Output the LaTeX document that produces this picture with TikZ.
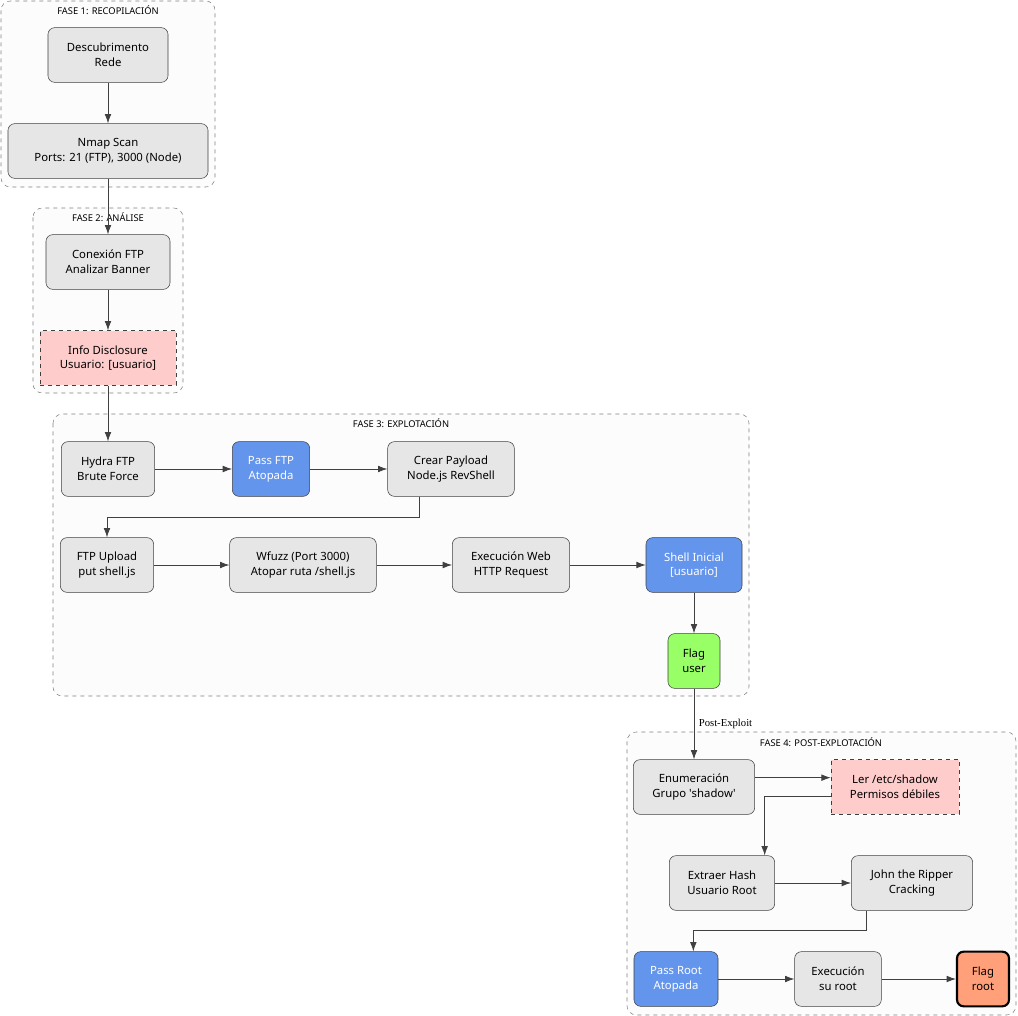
\documentclass[tikz,border=0pt]{standalone}
\usepackage{fontspec}
\setmainfont{Noto Sans}
\newfontfamily\labelfont{Liberation Serif}
\usetikzlibrary{arrows.meta,positioning}
\definecolor{boxgray}{HTML}{E6E6E6}
\definecolor{linegray}{HTML}{404040}
\definecolor{infopink}{HTML}{FFCCCC}
\definecolor{passblue}{HTML}{6495ED}
\definecolor{flaggreen}{HTML}{99FF66}
\definecolor{flagorange}{HTML}{FFA07A}
\begin{document}
\begin{tikzpicture}[x=0.75pt,y=-0.75pt,font=\fontsize{8.5}{11}\selectfont]
    \tikzset{
      stepnode/.style={rectangle,rounded corners=5pt,draw=linegray,fill=boxgray,inner sep=0pt,minimum height=41pt,align=center},
      infonode/.style={stepnode,rounded corners=0pt,dashed,fill=infopink},
      passnode/.style={stepnode,fill=passblue,text=white},
      phasebox/.style={draw=gray,dashed,rounded corners=7pt,fill=black!1},
      phaselabel/.style={font=\fontsize{7}{8}\selectfont},
      arrow/.style={-{Latex[length=7pt,width=5pt]},draw=linegray,line width=0.6pt}
    }
    \useasboundingbox (0,0) rectangle (1018,1016);
    % phases
    \draw[phasebox] (1,1) rectangle (215,187);
    \node[phaselabel] (f1) at (108,10) {FASE 1: RECOPILACIÓN};
    \draw[phasebox] (33,208) rectangle (183,393);
    \node[phaselabel] (f2) at (108,217) {FASE 2: ANÁLISE};
    \draw[phasebox] (53,414) rectangle (749,696);
    \node[phaselabel] (f3) at (401,423) {FASE 3: EXPLOTACIÓN};
    \draw[phasebox] (627,732) rectangle (1016,1015);
    \node[phaselabel] (f4) at (821,742) {FASE 4: POST-EXPLOTACIÓN};

    % steps
    \node[stepnode,minimum width=90pt] (discovery) at (108,55) {Descubrimento\\Rede};
    \node[stepnode,minimum width=150pt] (nmap) at (108,151) {Nmap Scan\\Ports: 21 (FTP), 3000 (Node)};
    \node[stepnode,minimum width=93pt] (ftpconn) at (108,262) {Conexión FTP\\Analizar Banner};
    \node[infonode,minimum width=102pt] (disclosure) at (108,358) {Info Disclosure\\Usuario: [usuario]};
    \node[stepnode,minimum width=70pt] (hydra) at (108,469) {Hydra FTP\\Brute Force};
    \node[passnode,minimum width=58pt] (passftp) at (271,469) {Pass FTP\\Atopada};
    \node[stepnode,minimum width=95pt] (payload) at (451,469) {Crear Payload\\Node.js RevShell};
    \node[stepnode,minimum width=70pt] (upload) at (107,565) {FTP Upload\\put shell.js};
    \node[stepnode,minimum width=110pt] (wfuzz) at (303,565) {Wfuzz (Port 3000)\\Atopar ruta /shell.js};
    \node[stepnode,minimum width=88pt] (webexec) at (511,565) {Execución Web\\HTTP Request};
    \node[passnode,minimum width=72pt] (shell) at (694,565) {Shell Inicial\\{[usuario]}};
    \node[stepnode,fill=flaggreen,minimum width=39pt] (flaguser) at (694,661) {Flag\\user};
    \node[stepnode,minimum width=91pt] (enum) at (694,787) {Enumeración\\Grupo \textquotesingle shadow\textquotesingle};
    \node[infonode,minimum width=96pt] (shadow) at (895,787) {Ler /etc/shadow\\Permisos débiles};
    \node[stepnode,minimum width=79pt] (hash) at (722,883) {Extraer Hash\\Usuario Root};
    \node[stepnode,minimum width=91pt] (john) at (912,883) {John the Ripper\\Cracking};
    \node[passnode,minimum width=63pt] (passroot) at (676,979) {Pass Root\\Atopada};
    \node[stepnode,minimum width=65pt] (suroot) at (838,979) {Execución\\su root};
    \node[stepnode,fill=flagorange,line width=1.6pt,draw=black,minimum width=39pt] (flagroot) at (983,979) {Flag\\root};

    % connectors
    \draw[arrow] (discovery) -- (nmap);
    \draw[arrow] (nmap) -- (ftpconn);
    \draw[arrow] (ftpconn) -- (disclosure);
    \draw[arrow] (disclosure) -- (hydra);
    \draw[arrow] (hydra) -- (passftp);
    \draw[arrow] (passftp) -- (payload);
    \draw[arrow] ([xshift=-24pt]payload.south) -- ++(0,21) -| (upload.north);
    \draw[arrow] (upload) -- (wfuzz);
    \draw[arrow] (wfuzz) -- (webexec);
    \draw[arrow] (webexec) -- (shell);
    \draw[arrow] (shell) -- (flaguser);
    \draw[arrow] (flaguser) -- node[right,font=\labelfont\fontsize{8}{9}\selectfont]{Post-Exploit} (enum);
    \draw[arrow] ([yshift=7pt]enum.east) -- ([yshift=7pt]shadow.west);
    \draw[arrow] ([yshift=-7pt]shadow.west) -| ([xshift=32pt]hash.north);
    \draw[arrow] (hash) -- (john);
    \draw[arrow] ([xshift=-34pt]john.south) -- ++(0,20) -| ([xshift=13pt]passroot.north);
    \draw[arrow] (passroot) -- (suroot);
    \draw[arrow] (suroot) -- (flagroot);
  \end{tikzpicture}
\end{document}
